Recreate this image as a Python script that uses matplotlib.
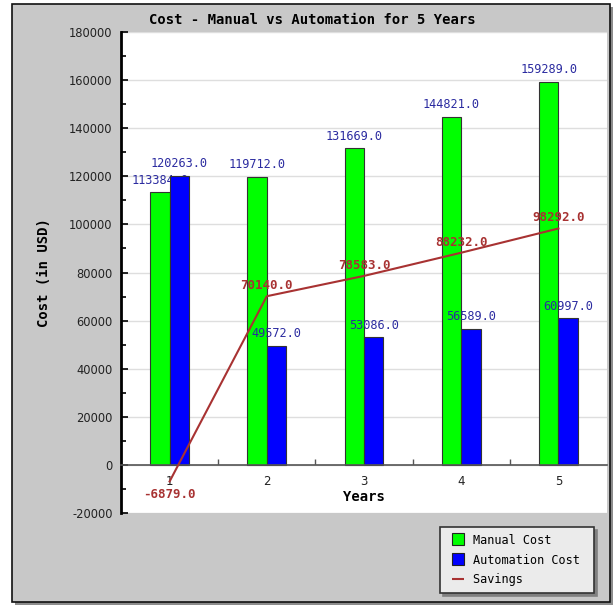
import matplotlib.pyplot as plt
import numpy as np
from matplotlib.patches import Rectangle
from matplotlib.lines import Line2D
from matplotlib.ticker import MultipleLocator, FixedLocator

years = [1, 2, 3, 4, 5]
manual_cost = [113384, 119712, 131669, 144821, 159289]
automation_cost = [120263, 49572, 53086, 56589, 60997]
savings = [-6879, 70140, 78583, 88232, 98292]

W, H = 614, 606
mono = 'DejaVu Sans Mono'
plt.rcParams['axes.unicode_minus'] = False

fig = plt.figure(figsize=(W / 100, H / 100), dpi=100, facecolor='white')

# grey chart panel with a drop shadow
def px_rect(x0, y0, x1, y1, **kw):
    return Rectangle((x0 / W, 1 - y1 / H), (x1 - x0) / W, (y1 - y0) / H,
                     transform=fig.transFigure, zorder=-10, **kw)

fig.patches.append(px_rect(15, 7, 613, 605, facecolor='#8c8c8c', edgecolor='none'))
fig.patches.append(px_rect(12, 4, 610, 602, facecolor='#c8c8c8', edgecolor='#111111', linewidth=1.2))

fig.text(312 / W, 1 - 20 / H, 'Cost - Manual vs Automation for 5 Years',
         ha='center', va='center', fontsize=10, fontweight='bold', family=mono)

ax = fig.add_axes([121 / W, 93 / H, 486 / W, 481 / H])
ax.set_facecolor('white')

x = np.array(years)
bw = 0.2
green = ax.bar(x - bw / 2, manual_cost, bw, color='#00ff00', edgecolor='#333333',
               linewidth=0.8, zorder=2)
for xi, v in zip(x, manual_cost):
    ax.annotate(f'{v:.1f}', (xi - bw / 2, v), xytext=(0, 4), textcoords='offset points',
                ha='center', va='bottom', fontsize=8.6, family=mono, color='#2b2ba0', zorder=2.5)
blue = ax.bar(x + bw / 2, automation_cost, bw, color='#0000ff', edgecolor='#333333',
              linewidth=0.8, zorder=3)
for xi, v in zip(x, automation_cost):
    ax.annotate(f'{v:.1f}', (xi + bw / 2, v), xytext=(0, 4), textcoords='offset points',
                ha='center', va='bottom', fontsize=8.6, family=mono, color='#2b2ba0', zorder=3.5)

red = '#a83232'
ax.plot(x, savings, color=red, linewidth=1.5, zorder=4)
for xi, v in zip(x, savings):
    if v < 0:
        ax.annotate(f'{v:.1f}', (xi, v), xytext=(0, -5), textcoords='offset points',
                    ha='center', va='top', fontsize=9, family=mono, fontweight='bold',
                    color=red, zorder=5)
    else:
        ax.annotate(f'{v:.1f}', (xi, v), xytext=(0, 3), textcoords='offset points',
                    ha='center', va='bottom', fontsize=9, family=mono, fontweight='bold',
                    color=red, zorder=5)

ax.set_xlim(0.5, 5.5)
ax.set_ylim(-20000, 180000)

for s in ['top', 'right']:
    ax.spines[s].set_visible(False)
ax.spines['left'].set_color('black')
ax.spines['left'].set_linewidth(2)
ax.spines['bottom'].set_position(('data', 0))
ax.spines['bottom'].set_color('#555555')
ax.spines['bottom'].set_linewidth(1.2)
ax.spines['bottom'].set_zorder(3.2)

ax.yaxis.set_major_locator(MultipleLocator(20000))
ax.yaxis.set_minor_locator(MultipleLocator(10000))
ax.tick_params(axis='y', which='major', direction='in', length=5, width=1.2,
               pad=6, labelsize=8.3, color='black', labelcolor='#222222')
ax.tick_params(axis='y', which='minor', direction='in', length=3.5, width=1.2, color='black')
ax.grid(axis='y', which='major', color='#dedede', linewidth=1, zorder=0)
ax.set_axisbelow(True)

ax.set_xticks(years)
ax.set_xticklabels([str(y) for y in years])
ax.xaxis.set_minor_locator(FixedLocator([1.5, 2.5, 3.5, 4.5]))
ax.tick_params(axis='x', which='major', length=0, pad=7, labelsize=8.5, labelcolor='#222222')
ax.tick_params(axis='x', which='minor', direction='in', length=4, width=1, color='#555555')

ax.set_xlabel('Years', fontsize=10, fontweight='bold', family=mono, labelpad=1.5)
ax.set_ylabel('Cost (in USD)', fontsize=10, fontweight='bold', family=mono, labelpad=13)

# legend: marker handles so the swatches sit inset like the original
handles = [Line2D([], [], linestyle='none', marker='s', markersize=8.6,
                  markerfacecolor='#00ff00', markeredgecolor='#222222', markeredgewidth=0.8),
           Line2D([], [], linestyle='none', marker='s', markersize=8.6,
                  markerfacecolor='#0000ff', markeredgecolor='#222222', markeredgewidth=0.8),
           Line2D([], [], linestyle='none', marker='_', markersize=8.6,
                  markeredgecolor=red, markeredgewidth=1.5)]
leg = ax.legend(handles, ['Manual Cost ', 'Automation Cost ', 'Savings '],
                loc='upper right', bbox_to_anchor=(594 / W, 1 - 527 / H),
                bbox_transform=fig.transFigure, borderaxespad=0,
                prop={'family': mono, 'size': 8.6}, fancybox=False,
                shadow={'facecolor': '#808080', 'edgecolor': '#808080', 'alpha': 1},
                facecolor='#ebebeb', edgecolor='#333333', framealpha=1,
                handlelength=1.8, handleheight=1.0, handletextpad=0.35,
                labelspacing=0.55, borderpad=0.6)
leg.get_frame().set_linewidth(1.2)

fig.savefig('out.png', dpi=100, facecolor='white')
